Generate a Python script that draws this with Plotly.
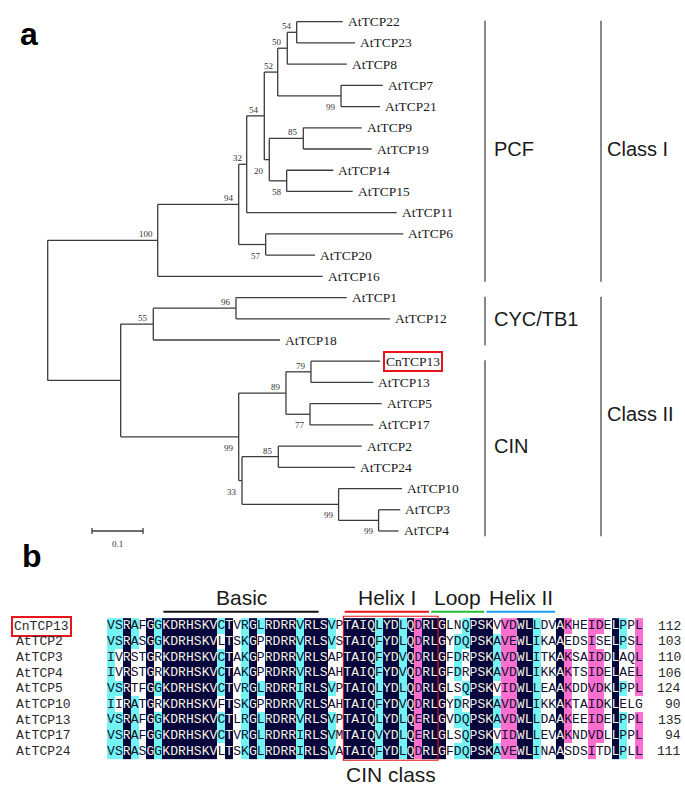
import re
from collections import Counter
import plotly.graph_objects as go

# ---------------- DATA ----------------
# Phylogenetic tree (Newick pieces, branch lengths in substitutions/site, bootstrap as node labels)
N54B = "(AtTCP22:0.0902,AtTCP23:0.1143)54"
N50 = "(" + N54B + ":0.0184,AtTCP8:0.1167)50"
N99A = "(AtTCP7:0.0818,AtTCP21:0.0765)99"
N52 = "(" + N50 + ":0.0188," + N99A + ":0.1241)52"
N85A = "(AtTCP9:0.1145,AtTCP19:0.1341)85"
N58 = "(AtTCP14:0.0914,AtTCP15:0.1294)58"
N20 = "(" + N85A + ":0.0667," + N58 + ":0.0341)20"
N54A = "(" + N52 + ":0.0263," + N20 + ":0.0098)54"
N32 = "(" + N54A + ":0.0345,AtTCP11:0.2941)32"
N57 = "(AtTCP6:0.2698,AtTCP20:0.0967)57"
N94 = "(" + N32 + ":0.0157," + N57 + ":0.0529)94"
CLASS1 = "(" + N94 + ":0.1588,AtTCP16:0.3235)100"
N96 = "(AtTCP1:0.2171,AtTCP12:0.3020)96"
N55 = "(" + N96 + ":0.1622,AtTCP18:0.2484)55"
N79 = "(CnTCP13:0.1353,AtTCP13:0.1222)79"
N77 = "(AtTCP5:0.1406,AtTCP17:0.1241)77"
N89 = "(" + N79 + ":0.0490," + N77 + ":0.0471)89"
N85B = "(AtTCP2:0.1635,AtTCP24:0.1504)85"
N99D = "(AtTCP3:0.0425,AtTCP4:0.0392)99"
N99C = "(AtTCP10:0.1243," + N99D + ":0.0784)99"
N33 = "(" + N85B + ":0.0712," + N99C + ":0.1894)33"
N99B = "(" + N89 + ":0.0927," + N33 + ":0.0065)99"
CLASS2 = "(" + N55 + ":0.0639," + N99B + ":0.2314)"
TREE_NEWICK = "(" + CLASS1 + ":0.2157," + CLASS2 + ":0.1431);"

HIGHLIGHT = "CnTCP13"
SCALE_LEN = 0.1

GROUP_NAMES = ["PCF", "CYC/TB1", "CIN"]
GROUP_FIRST = ["AtTCP22", "AtTCP1", "CnTCP13"]
GROUP_LAST = ["AtTCP16", "AtTCP18", "AtTCP4"]
CLASS_NAMES = ["Class I", "Class II"]
CLASS_FIRST = ["AtTCP22", "AtTCP1"]
CLASS_LAST = ["AtTCP16", "AtTCP4"]

# Alignment (TCP domain)
SEQ_NAMES = ["CnTCP13", "AtTCP2", "AtTCP3", "AtTCP4", "AtTCP5",
             "AtTCP10", "AtTCP13", "AtTCP17", "AtTCP24"]
SEQS = [
    "VSRAFGGKDRHSKVCTVRGLRDRRVRLSVPTAIQLYDLQDRLGLNQPSKVVDWLLDVAKHEIDELPPL",
    "VSRASGGKDRHSKVLTSKGPRDRRVRLSVSTAIQFYDLQDRLGYDQPSKAVEWLIKAAEDSISELPSL",
    "IVRSTGRKDRHSKVCTAKGPRDRRVRLSAPTAIQFYDVQDRLGFDRPSKAVDWLITKAKSAIDDLAQL",
    "IVRSTGRKDRHSKVCTAKGPRDRRVRLSAHTAIQFYDVQDRLGFDRPSKAVDWLIKKAKTSIDELAEL",
    "VSRTFGGKDRHSKVCTVRGLRDRRIRLSVPTAIQLYDLQDRLGLSQPSKVIDWLLEAAKDDVDKLPPL",
    "IIRATGRKDRHSKVFTSKGPRDRRVRLSAHTAIQFYDVQDRLGYDRPSKAVDWLIKKAKTAIDKLELG",
    "VSRAFGGKDRHSKVCTLRGLRDRRVRLSVPTAIQLYDLQERLGVDQPSKAVDWLLDAAKEEIDELPPL",
    "VSRAFGGKDRHSKVCTVRGLRDRRIRLSVMTAIQVYDLQERLGLSQPSKVIDWLLEVAKNDVDLLPPL",
    "VSRASGGKDRHSKVLTSKGLRDRRIRLSVATAIQFYDLQDRLGFDQPSKAVEWLINAASDSITDLPLL",
]
END_POS = [112, 103, 110, 106, 124, 90, 135, 94, 111]
DOMAIN_NAMES = ["Basic", "Helix I", "Loop", "Helix II"]
DOMAIN_START = [7, 30, 41, 48]
DOMAIN_END = [26, 40, 47, 56]
CIN_BOX = (30, 41)  # residues boxed as "CIN class"
SIM_GROUPS = ["ILVMF", "KRH", "DE", "NQ", "ST", "YW"]

# ---------------- STYLE ----------------
W, H = 685, 786
TREE_COL = "#3c3c3c"
NAVY, PINK, CYAN = "#06063c", "#ff6fcf", "#72f4f4"
SERIF = "Liberation Serif"
SANS = "Liberation Sans"
MONO = "Liberation Mono"

# pixel geometry of the two panels
ROOT_PX, PX_PER_UNIT = 47.7, 510.0
LEAF0_PX, LEAF_STEP = 21.7, 21.22
COL0_PX, COL_STEP = 111.0, 7.88
ROW0_PX, ROW_STEP = 626.0, 15.7


# ---------------- TREE PARSE & LAYOUT ----------------
def parse_newick(s):
    pos = 0

    def node():
        nonlocal pos
        nd = {"children": [], "name": "", "len": 0.0}
        if s[pos] == "(":
            pos += 1
            while True:
                nd["children"].append(node())
                if s[pos] == ",":
                    pos += 1
                    continue
                if s[pos] == ")":
                    pos += 1
                    break
        m = re.match(r"[^:,();]*", s[pos:])
        nd["name"] = m.group(0)
        pos += len(m.group(0))
        if pos < len(s) and s[pos] == ":":
            pos += 1
            m = re.match(r"[0-9.eE+-]+", s[pos:])
            nd["len"] = float(m.group(0))
            pos += len(m.group(0))
        return nd

    return node()


tree = parse_newick(TREE_NEWICK)
leaves = []


def layout(nd, x0, parent=None, idx=0):
    nd["x"] = x0 + nd["len"]
    nd["parent_x"] = x0
    nd["idx"] = idx
    if not nd["children"]:
        nd["y"] = len(leaves)
        leaves.append(nd)
    else:
        for i, ch in enumerate(nd["children"]):
            layout(ch, nd["x"], nd, i)
        nd["y"] = (nd["children"][0]["y"] + nd["children"][-1]["y"]) / 2.0


layout(tree, 0.0)
tree["x"] = 0.0
leaf_y = {lf["name"]: lf["y"] for lf in leaves}

lx, ly = [], []
internal = []


def collect(nd, is_root=False):
    if not is_root:
        lx.extend([nd["parent_x"], nd["x"], None])
        ly.extend([nd["y"], nd["y"], None])
    if nd["children"]:
        lx.extend([nd["x"], nd["x"], None])
        ly.extend([nd["children"][0]["y"], nd["children"][-1]["y"], None])
        if nd["name"]:
            internal.append(nd)
        for ch in nd["children"]:
            collect(ch)


collect(tree, True)

# axes ranges so that data scales map to the panel geometry
tx_range = [-ROOT_PX / PX_PER_UNIT, (W - ROOT_PX) / PX_PER_UNIT]
ty_range = [(H - LEAF0_PX) / LEAF_STEP, -LEAF0_PX / LEAF_STEP]
ax_range = [-COL0_PX / COL_STEP, (W - COL0_PX) / COL_STEP]
ay_range = [(H - ROW0_PX) / ROW_STEP, -ROW0_PX / ROW_STEP]


def tx(px):
    return (px - ROOT_PX) / PX_PER_UNIT


def acol(px):
    return (px - COL0_PX) / COL_STEP


fig = go.Figure()
fig.add_trace(go.Scatter(x=lx, y=ly, mode="lines",
                         line=dict(color=TREE_COL, width=1.3),
                         hoverinfo="skip", xaxis="x", yaxis="y"))

ann = []
for lf in leaves:
    a = dict(x=lf["x"], y=lf["y"], xref="x", yref="y", text=lf["name"],
             showarrow=False, xanchor="left", yanchor="middle", xshift=3,
             font=dict(family=SERIF, size=13.5, color="#1a1a1a"))
    if lf["name"] == HIGHLIGHT:
        a.update(bordercolor="#e8141c", borderwidth=2, borderpad=1)
    ann.append(a)

for nd in internal:
    upper = nd["idx"] == 0
    ann.append(dict(x=nd["x"], y=nd["y"], xref="x", yref="y", text=nd["name"],
                    showarrow=False, xanchor="right",
                    yanchor="bottom" if upper else "top",
                    xshift=-3, yshift=-1 if upper else -4,
                    font=dict(family=SERIF, size=9, color="#333")))

# scale bar
sb_x0 = tx(92)
sb_y = leaf_y["AtTCP4"]
fig.add_trace(go.Scatter(x=[sb_x0, sb_x0 + SCALE_LEN], y=[sb_y, sb_y], mode="lines",
                         line=dict(color=TREE_COL, width=1.3), hoverinfo="skip",
                         xaxis="x", yaxis="y"))
shapes = []
for xx in (sb_x0, sb_x0 + SCALE_LEN):
    shapes.append(dict(type="line", xref="x", yref="y", x0=xx, x1=xx,
                       y0=sb_y - 0.14, y1=sb_y + 0.14,
                       line=dict(color=TREE_COL, width=1.3)))
ann.append(dict(x=sb_x0 + SCALE_LEN / 2, y=sb_y, xref="x", yref="y",
                text=str(SCALE_LEN), showarrow=False, yanchor="top", yshift=-6,
                font=dict(family=SERIF, size=9, color="#333")))

# group brackets
GX, CX = tx(485), tx(601)
for names, firsts, lasts, xline in ((GROUP_NAMES, GROUP_FIRST, GROUP_LAST, GX),
                                    (CLASS_NAMES, CLASS_FIRST, CLASS_LAST, CX)):
    for nm, f, l in zip(names, firsts, lasts):
        y0, y1 = leaf_y[f] - 0.04, leaf_y[l] + 0.25
        shapes.append(dict(type="line", xref="x", yref="y", x0=xline, x1=xline,
                           y0=y0, y1=y1, line=dict(color="#555", width=1.4)))
        ann.append(dict(x=xline, y=(leaf_y[f] + leaf_y[l]) / 2, xref="x", yref="y",
                        text=nm, showarrow=False, xanchor="left",
                        xshift=7 if xline == GX else 4,
                        font=dict(family=SANS, size=20, color="#1a1a1a")))

# ---------------- ALIGNMENT ----------------
ncol = len(SEQS[0])
nrow = len(SEQS)


def grp(a):
    for g in SIM_GROUPS:
        if a in g:
            return g
    return a


z = [[0] * ncol for _ in range(nrow)]
for c in range(ncol):
    col = [s[c] for s in SEQS]
    cons, n = Counter(col).most_common(1)[0]
    frac = n / nrow
    level = 3 if n == nrow else (2 if frac >= 0.75 else (1 if frac >= 0.5 else 0))
    for r in range(nrow):
        if col[r] == cons or grp(col[r]) == grp(cons):
            z[r][c] = level

fig.add_trace(go.Heatmap(z=z, x=list(range(ncol)), y=list(range(nrow)),
                         zmin=0, zmax=3, showscale=False, hoverinfo="skip",
                         colorscale=[[0, "#ffffff"], [0.1667, "#ffffff"],
                                     [0.1667, CYAN], [0.5, CYAN],
                                     [0.5, PINK], [0.8333, PINK],
                                     [0.8333, NAVY], [1, NAVY]],
                         xaxis="x2", yaxis="y2"))

xs, ys, tt, tc = [], [], [], []
for r, s in enumerate(SEQS):
    for c, ch in enumerate(s):
        xs.append(c)
        ys.append(r)
        tt.append(ch)
        tc.append("#f4f0e0" if z[r][c] == 3 else "#101030")
fig.add_trace(go.Scatter(x=xs, y=ys, mode="text", text=tt,
                         textfont=dict(family=MONO, size=13, color=tc),
                         hoverinfo="skip", xaxis="x2", yaxis="y2"))

for r, (nm, e) in enumerate(zip(SEQ_NAMES, END_POS)):
    a = dict(x=acol(14), y=r, xref="x2", yref="y2", text=nm, showarrow=False,
             xanchor="left", font=dict(family=MONO, size=13, color="#2a2a2a"))
    if nm == HIGHLIGHT:
        a.update(bordercolor="#e8141c", borderwidth=2, borderpad=1, xshift=-3)
    ann.append(a)
    ann.append(dict(x=acol(683), y=r, xref="x2", yref="y2", text=str(e),
                    showarrow=False, xanchor="right",
                    font=dict(family=MONO, size=13, color="#2a2a2a")))

DOM_COLORS = ["#111111", "#e8141c", "#22bb33", "#1aa0ee"]
line_row = -0.9
for nm, s0, s1, colr in zip(DOMAIN_NAMES, DOMAIN_START, DOMAIN_END, DOM_COLORS):
    shapes.append(dict(type="line", xref="x2", yref="y2", x0=s0 - 0.35, x1=s1 + 0.35,
                       y0=line_row, y1=line_row, line=dict(color=colr, width=2)))
    ann.append(dict(x=(s0 + s1) / 2, y=line_row, xref="x2", yref="y2", text=nm,
                    showarrow=False, yanchor="bottom", yshift=1,
                    font=dict(family=SANS, size=21, color="#1a1a1a")))

shapes.append(dict(type="rect", xref="x2", yref="y2",
                   x0=CIN_BOX[0] - 0.5, x1=CIN_BOX[1] + 0.5, y0=-0.62, y1=nrow - 0.45,
                   line=dict(color="#e8141c", width=1.2)))
ann.append(dict(x=(CIN_BOX[0] + CIN_BOX[1]) / 2, y=nrow - 0.45, xref="x2", yref="y2",
                text="CIN class", showarrow=False, yanchor="top", yshift=-1,
                font=dict(family=SANS, size=21, color="#1a1a1a")))

# panel letters
ann.append(dict(x=17.5 / W, y=1 - 14 / H, xref="paper", yref="paper", text="<b>a</b>",
                showarrow=False, font=dict(family=SANS, size=32, color="#000")))
ann.append(dict(x=20 / W, y=1 - 576 / H, xref="paper", yref="paper", text="<b>b</b>",
                showarrow=False, font=dict(family=SANS, size=32, color="#000")))

hidden = dict(visible=False, showgrid=False, zeroline=False, fixedrange=True)
fig.update_layout(
    width=W, height=H, margin=dict(l=0, r=0, t=0, b=0),
    paper_bgcolor="white", plot_bgcolor="rgba(0,0,0,0)", showlegend=False,
    xaxis=dict(range=tx_range, domain=[0, 1], **hidden),
    yaxis=dict(range=ty_range, domain=[0, 1], **hidden),
    xaxis2=dict(range=ax_range, domain=[0, 1], anchor="y2", overlaying="x", **hidden),
    yaxis2=dict(range=ay_range, domain=[0, 1], anchor="x2", overlaying="y", **hidden),
    annotations=ann, shapes=shapes,
)
fig.write_html("out.html", config={"displayModeBar": False},
               post_script="document.body.style.margin='0';document.body.style.overflow='hidden';")
